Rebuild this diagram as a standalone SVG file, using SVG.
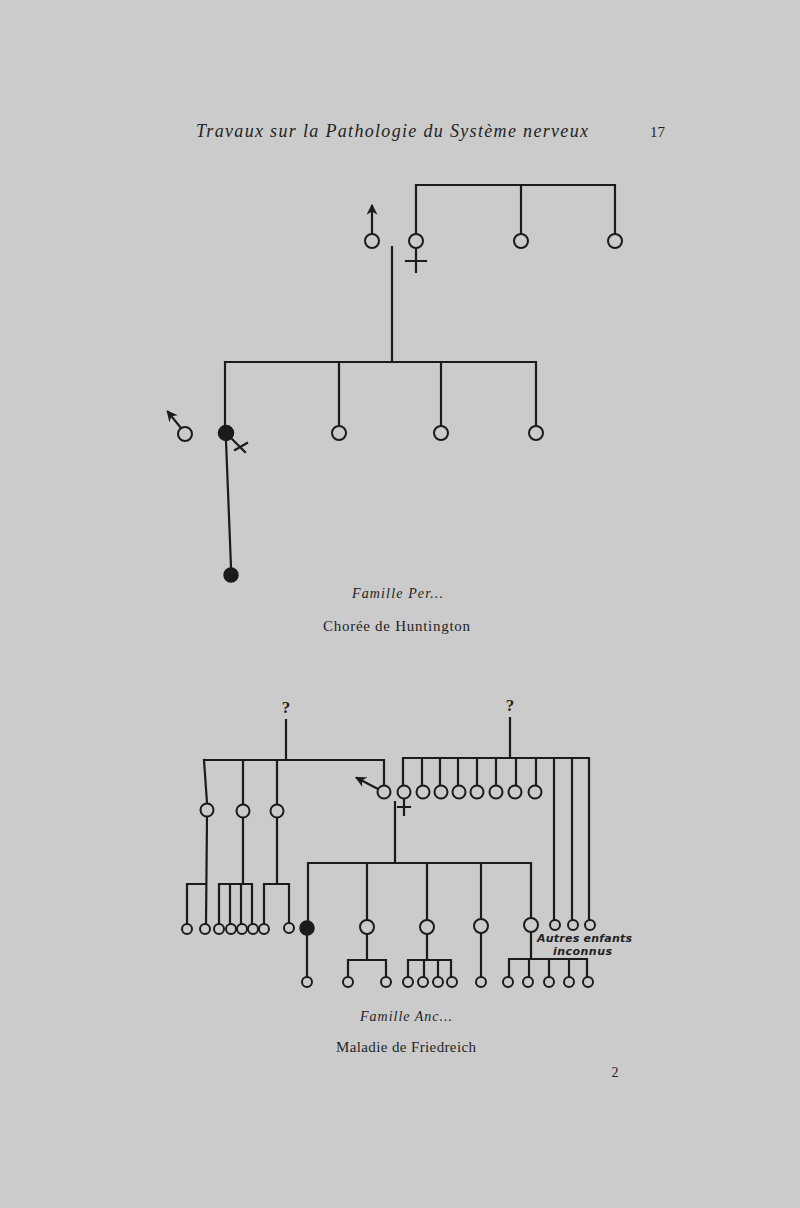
<svg xmlns="http://www.w3.org/2000/svg" width="800" height="1208" viewBox="0 0 800 1208">
<defs>
<style>
.ln{stroke:#1b1b1b;stroke-width:2.2;fill:none;stroke-linecap:square}
.o{stroke:#1b1b1b;stroke-width:2;fill:#cbcbcb}
.f{stroke:#1b1b1b;stroke-width:1.5;fill:#1b1b1b}
.ser{font-family:"Liberation Serif",serif;fill:#1f1f1f}
.it{font-style:italic}
.sans{font-family:"DejaVu Sans","Liberation Sans",sans-serif;font-style:oblique;font-weight:bold;fill:#1f1f1f;font-size:11px}
</style>
<marker id="ah" viewBox="0 0 10 10" refX="8" refY="5" markerWidth="5" markerHeight="5" orient="auto">
<path d="M0,0 L10,5 L0,10 L3,5 z" fill="#1b1b1b"/>
</marker>
</defs>
<rect width="800" height="1208" fill="#cbcbcb"/>
<g id="header">
<text class="ser it" x="196" y="137" font-size="18" textLength="392">Travaux sur la Pathologie du Système nerveux</text>
<text class="ser" x="650" y="137" font-size="15">17</text>
</g>
<g id="connectors">
<!-- top pedigree -->
<path class="ln" d="M416,185 H615 M416,185 V234 M521,185 V234 M615,185 V234"/>
<path class="ln" d="M372,234 V206" marker-end="url(#ah)"/>
<path class="ln" d="M416,248 V272 M406,261 H426"/>
<path class="ln" d="M392,247 V362 M225,362 H536 M225,362 V426 M339,362 V426 M441,362 V426 M536,362 V426"/>
<path class="ln" d="M181,428 L168,412" marker-end="url(#ah)"/>
<path class="ln" d="M232,439 L245,452 M235,450 L247,443"/>
<path class="ln" d="M226,441 L231,567"/>
<!-- bottom pedigree: left family -->
<path class="ln" d="M286,720 V760 M204,760 H384 M204,760 L207,803 M243,760 V804 M277,760 V804 M384,760 V785"/>
<path class="ln" d="M378,789 L357,778" marker-end="url(#ah)"/>
<path class="ln" d="M207,817 L206,924 M206,884 H187 V924"/>
<path class="ln" d="M243,817 V884 M219,884 H252 M219,884 V924 M230,884 V924 M241,884 V924 M252,884 V924"/>
<path class="ln" d="M277,817 V884 M264,884 H289 M264,884 V924 M289,884 V923"/>
<!-- right family -->
<path class="ln" d="M510,718 V758 M403,758 H589 M403,758 V786 M422,758 V786 M440,758 V786 M458,758 V786 M477,758 V786 M496,758 V786 M516,758 V786 M536,758 V786 M554,758 V920 M572,758 V920 M589,758 V920"/>
<path class="ln" d="M404,799 V815 M398,807 H410"/>
<!-- children of couple -->
<path class="ln" d="M395,802 V863 M308,863 H531 M308,863 V921 M367,863 V920 M427,863 V920 M481,863 V919 M531,863 V918"/>
<path class="ln" d="M307,935 V977"/>
<path class="ln" d="M367,934 V960 M348,960 H386 M348,960 V977 M386,960 V977"/>
<path class="ln" d="M427,934 V960 M408,960 H451 M408,960 V977 M424,960 V977 M438,960 V977 M451,960 V977"/>
<path class="ln" d="M481,933 V977"/>
<path class="ln" d="M531,932 V959 M509,959 H587 M509,959 V977 M529,959 V977 M549,959 V977 M569,959 V977 M587,959 V977"/>
</g>
<g id="top-pedigree">
<circle class="o" cx="372" cy="241" r="7"/>
<circle class="o" cx="416" cy="241" r="7"/>
<circle class="o" cx="521" cy="241" r="7"/>
<circle class="o" cx="615" cy="241" r="7"/>
<circle class="o" cx="185" cy="434" r="7"/>
<circle class="f" cx="226" cy="433" r="7.5"/>
<circle class="o" cx="339" cy="433" r="7"/>
<circle class="o" cx="441" cy="433" r="7"/>
<circle class="o" cx="536" cy="433" r="7"/>
<circle class="f" cx="231" cy="575" r="7"/>
</g>
<g id="caption-top">
<text class="ser it" x="352" y="598" font-size="14" textLength="91">Famille Per...</text>
<text class="ser" x="323" y="631" font-size="15" textLength="147">Chorée de Huntington</text>
</g>
<g id="bottom-pedigree">
<text class="ser" x="286" y="713" font-size="17" font-weight="bold" text-anchor="middle">?</text>
<text class="ser" x="510" y="711" font-size="17" font-weight="bold" text-anchor="middle">?</text>
<circle class="o" cx="207" cy="810" r="6.5"/>
<circle class="o" cx="243" cy="811" r="6.5"/>
<circle class="o" cx="277" cy="811" r="6.5"/>
<circle class="o" cx="384" cy="792" r="6.5"/>
<circle class="o" cx="404" cy="792" r="6.5"/>
<circle class="o" cx="423" cy="792" r="6.5"/>
<circle class="o" cx="441" cy="792" r="6.5"/>
<circle class="o" cx="459" cy="792" r="6.5"/>
<circle class="o" cx="477" cy="792" r="6.5"/>
<circle class="o" cx="496" cy="792" r="6.5"/>
<circle class="o" cx="515" cy="792" r="6.5"/>
<circle class="o" cx="535" cy="792" r="6.5"/>
<circle class="o" cx="187" cy="929" r="5"/>
<circle class="o" cx="205" cy="929" r="5"/>
<circle class="o" cx="219" cy="929" r="5"/>
<circle class="o" cx="231" cy="929" r="5"/>
<circle class="o" cx="242" cy="929" r="5"/>
<circle class="o" cx="253" cy="929" r="5"/>
<circle class="o" cx="264" cy="929" r="5"/>
<circle class="o" cx="289" cy="928" r="5"/>
<circle class="f" cx="307" cy="928" r="7"/>
<circle class="o" cx="367" cy="927" r="7"/>
<circle class="o" cx="427" cy="927" r="7"/>
<circle class="o" cx="481" cy="926" r="7"/>
<circle class="o" cx="531" cy="925" r="7"/>
<circle class="o" cx="555" cy="925" r="5"/>
<circle class="o" cx="573" cy="925" r="5"/>
<circle class="o" cx="590" cy="925" r="5"/>
<circle class="o" cx="307" cy="982" r="5"/>
<circle class="o" cx="348" cy="982" r="5"/>
<circle class="o" cx="386" cy="982" r="5"/>
<circle class="o" cx="408" cy="982" r="5"/>
<circle class="o" cx="423" cy="982" r="5"/>
<circle class="o" cx="438" cy="982" r="5"/>
<circle class="o" cx="452" cy="982" r="5"/>
<circle class="o" cx="481" cy="982" r="5"/>
<circle class="o" cx="508" cy="982" r="5"/>
<circle class="o" cx="528" cy="982" r="5"/>
<circle class="o" cx="549" cy="982" r="5"/>
<circle class="o" cx="569" cy="982" r="5"/>
<circle class="o" cx="588" cy="982" r="5"/>
<text class="sans" x="537" y="942" textLength="95">Autres enfants</text>
<text class="sans" x="553" y="955" textLength="59">inconnus</text>
</g>
<g id="caption-bottom">
<text class="ser it" x="360" y="1021" font-size="14" textLength="92">Famille Anc...</text>
<text class="ser" x="336" y="1052" font-size="15" textLength="140">Maladie de Friedreich</text>
<text class="ser" x="615" y="1077" font-size="14" text-anchor="middle">2</text>
</g>
</svg>
